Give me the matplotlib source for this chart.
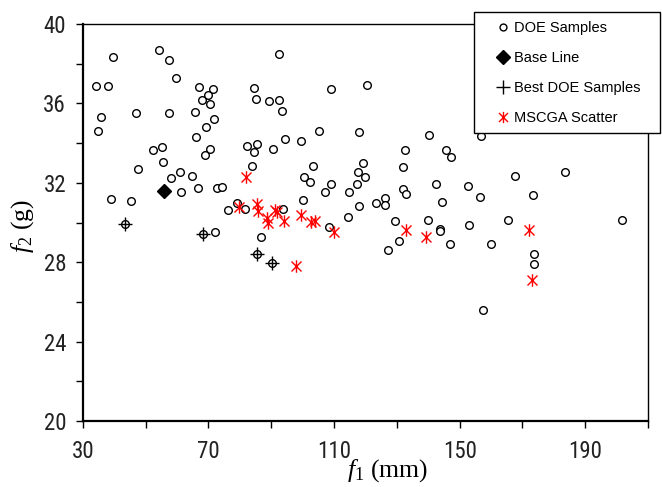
import numpy as np
import matplotlib
matplotlib.use("Agg")
import matplotlib.pyplot as plt
from matplotlib.path import Path
from matplotlib.patches import Rectangle

# DOE samples (f1 in mm, f2 in g)
doe_x = [39.5, 54.4, 57.6, 59.8, 34.3, 38.1, 67.0, 71.6, 69.9, 68.0,
         70.5, 35.7, 47.1, 57.6, 65.6, 71.9, 34.7, 69.1, 66.0, 55.2,
         52.3, 70.5, 68.8, 55.5, 47.5, 61.1, 58.0, 64.9, 66.6, 61.4,
         72.8, 74.3, 39.1, 45.4, 79.1, 76.4, 81.7, 72.2, 82.3, 84.4,
         92.4, 109.1, 120.6, 85.1, 89.3, 92.4, 93.5, 105.3, 118.1, 140.4,
         85.5, 84.4, 90.6, 94.5, 99.4, 132.5, 145.8, 147.4, 83.8, 103.2,
         119.3, 132.0, 117.5, 100.3, 120.0, 102.5, 108.9, 117.3, 132.0, 142.6,
         152.6, 156.5, 107.0, 114.7, 132.8, 100.0, 93.8, 123.4, 126.2, 126.1,
         117.8, 144.4, 114.6, 108.4, 129.3, 139.8, 143.6, 143.9, 152.9, 86.8,
         130.7, 147.0, 127.2, 156.8, 167.6, 183.6, 173.2, 165.5, 201.7, 160.0,
         173.6, 173.6, 157.4, 43.6, 68.4, 85.5, 90.3]
doe_y = [38.36, 38.69, 38.19, 37.30, 36.87, 36.87, 36.83, 36.71, 36.41, 36.17,
         35.95, 35.33, 35.51, 35.51, 35.57, 35.23, 34.62, 34.83, 34.31, 33.80,
         33.63, 33.70, 33.42, 33.07, 32.70, 32.52, 32.26, 32.32, 31.75, 31.52,
         31.76, 31.81, 31.20, 31.08, 30.98, 30.65, 30.70, 29.51, 33.85, 36.76,
         38.47, 36.71, 36.93, 36.21, 36.11, 36.16, 35.62, 34.62, 34.56, 34.40,
         33.95, 33.57, 33.69, 34.19, 34.12, 33.64, 33.64, 33.30, 32.86, 32.86,
         33.01, 32.81, 32.53, 32.28, 32.27, 32.03, 31.92, 31.93, 31.69, 31.93,
         31.82, 31.31, 31.54, 31.55, 31.43, 31.15, 30.66, 31.00, 31.25, 30.88,
         30.83, 31.04, 30.28, 29.78, 30.10, 30.11, 29.67, 29.55, 29.89, 29.28,
         29.08, 28.90, 28.64, 34.34, 32.36, 32.53, 31.37, 30.11, 30.11, 28.90,
         28.40, 27.89, 25.59, 29.92, 29.41, 28.41, 27.94]

base_x = [55.9]
base_y = [31.60]

best_x = [43.6, 68.4, 85.5, 90.3]
best_y = [29.92, 29.41, 28.41, 27.94]

mscga_x = [82.1, 79.8, 85.5, 85.7, 88.7, 88.9, 91.3, 91.9, 94.0, 99.4,
           102.8, 104.1, 110.0, 97.8, 132.9, 139.2, 172.2, 172.9]
mscga_y = [32.28, 30.76, 30.94, 30.57, 30.21, 29.96, 30.63, 30.52, 30.08, 30.38,
           30.05, 30.09, 29.53, 27.81, 29.63, 29.29, 29.64, 27.10]

x_ticks = list(range(30, 211, 20))
x_ticklabels = [str(v) if (v - 30) % 40 == 0 else '' for v in x_ticks]
y_ticks = list(range(20, 41, 2))
y_ticklabels = [str(v) if v % 4 == 0 else '' for v in y_ticks]

plt.rcParams['mathtext.fontset'] = 'custom'
plt.rcParams['mathtext.rm'] = 'Liberation Serif'
plt.rcParams['mathtext.it'] = 'Liberation Serif:italic'

# asterisk: vertical bar + X
star = Path([(0, -1), (0, 1), (-0.8, -0.8), (0.8, 0.8), (-0.8, 0.8), (0.8, -0.8)],
            [Path.MOVETO, Path.LINETO, Path.MOVETO, Path.LINETO, Path.MOVETO, Path.LINETO])

fig = plt.figure(figsize=(6.62, 4.87), dpi=100)
ax = fig.add_axes([0.125, 0.1355, 0.854, 0.8152])

h1, = ax.plot(doe_x, doe_y, 'o', ms=5.5, mfc='white', mec='black', mew=1.0, ls='none', label='DOE Samples')
h2, = ax.plot(base_x, base_y, 'D', ms=7.6, color='black', ls='none', label='Base Line')
h3, = ax.plot(best_x, best_y, '+', ms=10.5, mew=1.0, color='black', ls='none', label='Best DOE Samples')
h4, = ax.plot(mscga_x, mscga_y, marker=star, ms=9, mew=1.0, color='red', ls='none', label='MSCGA Scatter')

ax.set_xlim(30, 210)
ax.set_ylim(20, 40)
ax.set_xticks(x_ticks)
ax.set_xticklabels(x_ticklabels)
ax.set_yticks(y_ticks)
ax.set_yticklabels(y_ticklabels)

tick_font = ['Liberation Sans Narrow', 'Arial Narrow', 'Roboto Condensed', 'Liberation Sans']
for lab in ax.get_xticklabels() + ax.get_yticklabels():
    lab.set_family(tick_font)
    lab.set_stretch('condensed')
    lab.set_fontsize(16.5)
    lab.set_color('#222222')
ax.tick_params(direction='out', length=5, width=1, pad=7)
ax.tick_params(axis='x', pad=9)

for s in ['left', 'bottom']:
    ax.spines[s].set_linewidth(1.6)
for s in ['top', 'right']:
    ax.spines[s].set_linewidth(1.0)

ax.set_xlabel(r'$f_1$ (mm)', fontsize=18.5, family='Liberation Serif')
ax.set_ylabel(r'$f_2$ (g)', fontsize=18.5, family='Liberation Serif')
ax.xaxis.set_label_coords(0.54, -0.09)
ax.yaxis.set_label_coords(-0.083, 0.49)

# legend box
fig.add_artist(Rectangle((474 / 662, 1 - 133 / 487), 186 / 662, 121 / 487,
                         transform=fig.transFigure, facecolor='white',
                         edgecolor='black', linewidth=1.0, zorder=3))
fig.legend(handles=[h1, h2, h3, h4], loc='upper left',
           bbox_to_anchor=(491 / 662, 1 - 17 / 487), bbox_transform=fig.transFigure,
           frameon=False, prop={'family': 'Liberation Sans', 'size': 10.5},
           handlelength=1.0, handletextpad=0.25, labelspacing=1.1, borderpad=0.3,
           borderaxespad=0, markerscale=0.9)

fig.savefig('out.png', dpi=100)
